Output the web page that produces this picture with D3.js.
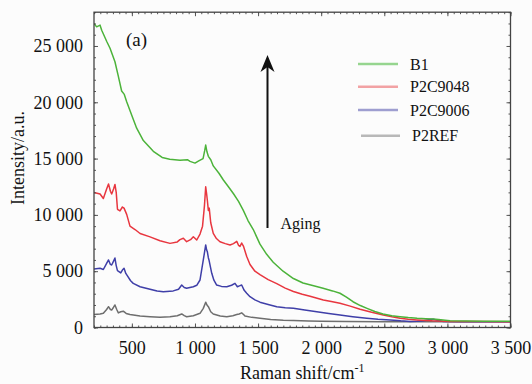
<!DOCTYPE html>
<html><head><meta charset="utf-8">
<script src="https://cdn.jsdelivr.net/npm/d3@7/dist/d3.min.js"></script>
<style>
html,body{margin:0;padding:0;background:#fcfcfc;}
svg{display:block;}
svg text{font-family:"Liberation Serif","DejaVu Serif","Times New Roman",serif !important;}
</style></head>
<body>
<svg id="chart" width="532" height="384"></svg>
<script>
// ---- data (Raman shift cm-1, intensity a.u.) ----
const b1 = [[200,27000],[221,26700],[248,26850],[261,26400],[301,25400],[327,24800],[366,23600],[393,22300],[419,21000],[440,20700],[459,20050],[499,18850],[538,17700],[591,16600],[670,15650],[740,15100],[800,14950],[881,14850],[940,14900],[961,14750],[1000,14600],[1030,14800],[1064,15000],[1077,15700],[1085,16200],[1095,15600],[1106,15200],[1125,14900],[1145,14350],[1190,13700],[1225,13100],[1265,12500],[1304,11900],[1345,11200],[1383,10400],[1420,9500],[1462,8700],[1515,7400],[1568,6500],[1620,5800],[1698,5000],[1780,4350],[1856,3950],[1940,3700],[2015,3480],[2090,3250],[2149,3040],[2200,2700],[2252,2290],[2310,1950],[2363,1700],[2425,1420],[2490,1200],[2560,1050],[2625,960],[2690,880],[2760,820],[2830,780],[2886,760],[2930,720],[2982,650],[3021,600],[3150,570],[3283,550],[3500,550]];
const p2c9048 = [[200,12000],[248,11850],[274,11450],[300,12300],[315,12750],[330,12100],[340,11850],[355,12300],[366,12700],[376,12000],[386,10500],[406,10350],[425,10700],[438,10600],[459,10050],[485,9000],[525,8700],[565,8350],[644,8050],[723,7700],[802,7470],[860,7600],[881,7800],[908,7920],[934,7620],[965,7800],[987,8060],[1014,7770],[1040,8300],[1060,9000],[1075,10800],[1085,12500],[1092,11900],[1098,11300],[1106,10400],[1113,10600],[1125,9300],[1145,8360],[1170,7900],[1198,7620],[1240,7450],[1278,7330],[1305,7450],[1331,7650],[1345,7300],[1357,7200],[1370,7500],[1385,7200],[1410,6300],[1436,5600],[1475,5000],[1515,4700],[1580,4250],[1648,3900],[1715,3500],[1780,3200],[1850,2950],[1912,2780],[2017,2450],[2080,2300],[2149,2150],[2230,1900],[2308,1620],[2400,1350],[2492,1110],[2560,950],[2625,820],[2690,730],[2757,670],[2880,590],[3021,540],[3250,530],[3500,520]];
const p2c9006 = [[200,5200],[248,5260],[274,5150],[300,5700],[315,6000],[330,5600],[340,5550],[355,5900],[366,6170],[376,5500],[386,5050],[412,4850],[425,5100],[438,5260],[452,4800],[465,4580],[490,4150],[511,3920],[565,3620],[644,3400],[700,3250],[749,3180],[828,3250],[870,3400],[895,3770],[915,3550],[934,3480],[960,3550],[987,3620],[1014,3750],[1040,4220],[1066,6000],[1085,7330],[1092,6900],[1098,6730],[1106,6200],[1111,6000],[1133,4810],[1150,4200],[1172,3770],[1210,3650],[1252,3620],[1290,3750],[1317,3920],[1336,3620],[1352,3700],[1370,3770],[1390,3300],[1410,3040],[1436,2735],[1475,2450],[1515,2250],[1580,2050],[1648,1850],[1715,1760],[1780,1700],[1870,1550],[1965,1400],[2060,1250],[2149,1110],[2250,960],[2361,820],[2450,730],[2546,670],[2630,590],[2704,540],[2760,560],[2810,600],[2850,690],[2889,740],[2920,650],[2968,540],[3100,520],[3300,520],[3500,520]];
const p2ref = [[200,1150],[248,1200],[274,1260],[300,1600],[315,1850],[330,1600],[340,1550],[355,1800],[366,2000],[380,1600],[393,1300],[412,1400],[432,1450],[455,1250],[485,1150],[525,1080],[565,1020],[644,960],[723,900],[802,950],[860,1050],[895,1200],[915,1050],[934,960],[987,1050],[1040,1260],[1066,1700],[1085,2250],[1095,2000],[1106,1850],[1125,1400],[1145,1200],[1200,1020],[1252,960],[1300,1050],[1331,1150],[1350,1200],[1370,1300],[1385,1150],[1396,1020],[1450,900],[1515,820],[1600,720],[1700,650],[1780,620],[1900,580],[2000,560],[2200,540],[2500,520],[2900,510],[3200,505],[3500,500]];

const seriesNames = ["B1","P2C9048","P2C9006","P2REF"];
const seriesData = [b1, p2c9048, p2c9006, p2ref];
const lineColors = ["#4cb33a","#e8363f","#3f3fa8","#6e6e6e"];
const legendColors = ["#96d58f","#f2a2a4","#9e9ed0","#b8b8b8"];

const xTicks = [500,1000,1500,2000,2500,3000,3500];
const yTicks = [0,5000,10000,15000,20000,25000];

// ---- layout ----
const FONT = "'Liberation Serif','DejaVu Serif','Times New Roman',serif";
const svg = d3.select("#chart").attr("font-family",FONT);
const L = 94, R = 510.5, T = 12.2, B = 327.5;
const x = d3.scaleLinear().domain([200,3500]).range([L,R]);
const y = d3.scaleLinear().domain([0,28000]).range([B,T]);
const fmt = v => d3.format(",")(v).replace(/,/g," ");

svg.append("rect").attr("width",532).attr("height",384).attr("fill","#fcfcfc");

svg.append("clipPath").attr("id","clip").append("rect")
  .attr("x",L).attr("y",T).attr("width",R-L).attr("height",B-T);

const line = d3.line().x(d=>x(d[0])).y(d=>y(d[1]));
const g = svg.append("g").attr("clip-path","url(#clip)");
for (let i = seriesData.length-1; i >= 0; i--) {
  g.append("path").datum(seriesData[i])
    .attr("fill","none").attr("stroke",lineColors[i])
    .attr("stroke-width",1.5).attr("stroke-linejoin","round")
    .attr("d",line);
}

const xMinor = d3.range(200,3501,50);
const yMinor = d3.range(0,28001,1000);
function styleAxis(sel){
  sel.attr("font-family",FONT).attr("font-size",18);
  sel.select(".domain").remove();
  sel.selectAll(".tick line").attr("stroke","#555").attr("stroke-width",1);
  sel.selectAll("text").attr("fill","#111");
}
svg.append("g").attr("transform",`translate(0,${B})`)
  .call(d3.axisBottom(x).tickValues(xMinor).tickSize(-2).tickFormat(""))
  .call(styleAxis);
svg.append("g").attr("transform",`translate(0,${B})`)
  .call(d3.axisBottom(x).tickValues(xTicks).tickSize(-4).tickPadding(14).tickFormat(fmt))
  .call(styleAxis);
svg.append("g").attr("transform",`translate(0,${T})`)
  .call(d3.axisTop(x).tickValues(xMinor).tickSize(-2).tickFormat(""))
  .call(styleAxis);
svg.append("g").attr("transform",`translate(0,${T})`)
  .call(d3.axisTop(x).tickValues(xTicks).tickSize(-4).tickFormat(""))
  .call(styleAxis);
svg.append("g").attr("transform",`translate(${L},0)`)
  .call(d3.axisLeft(y).tickValues(yMinor).tickSize(-2).tickFormat(""))
  .call(styleAxis);
svg.append("g").attr("transform",`translate(${L},0)`)
  .call(d3.axisLeft(y).tickValues(yTicks).tickSize(-4).tickPadding(11).tickFormat(fmt))
  .call(styleAxis);
svg.append("g").attr("transform",`translate(${R},0)`)
  .call(d3.axisRight(y).tickValues(yMinor).tickSize(-2).tickFormat(""))
  .call(styleAxis);
svg.append("g").attr("transform",`translate(${R},0)`)
  .call(d3.axisRight(y).tickValues(yTicks).tickSize(-4).tickFormat(""))
  .call(styleAxis);

svg.append("rect").attr("x",L).attr("y",T).attr("width",R-L).attr("height",B-T)
  .attr("fill","none").attr("stroke","#444").attr("stroke-width",1.3);

const xt = svg.append("text").attr("x",(L+R)/2).attr("y",379)
  .attr("text-anchor","middle").attr("font-size",18).attr("fill","#111");
xt.append("tspan").text("Raman shift/cm");
xt.append("tspan").attr("dy",-7).attr("font-size",12).text("-1");

svg.append("text").attr("transform","translate(24,158) rotate(-90)")
  .attr("text-anchor","middle").attr("font-size",18).attr("fill","#111")
  .text("Intensity/a.u.");

svg.append("text").attr("x",126).attr("y",46).attr("font-size",19).attr("fill","#111").text("(a)");

const ax = 267.5;
svg.append("line").attr("x1",ax).attr("x2",ax).attr("y1",228).attr("y2",66)
  .attr("stroke","#111").attr("stroke-width",2);
svg.append("path").attr("d",`M${ax},55 L${ax-7},72 L${ax},67 L${ax+7},72 Z`).attr("fill","#111");
svg.append("text").attr("x",280.5).attr("y",229).attr("font-size",16).attr("fill","#111").text("Aging");

const legY = [64,86.7,110,135.7];
const legX1 = [358,358,358,361], legX2=[398,398,398,400], legTX=[410,410,410,412];
seriesNames.forEach((n,i)=>{
  svg.append("line").attr("x1",legX1[i]).attr("x2",legX2[i]).attr("y1",legY[i]).attr("y2",legY[i])
    .attr("stroke",legendColors[i]).attr("stroke-width",2.5);
  svg.append("text").attr("x",legTX[i]).attr("y",legY[i]+5.5).attr("font-size",16)
    .attr("fill","#111").text(n);
});
</script>
</body></html>
